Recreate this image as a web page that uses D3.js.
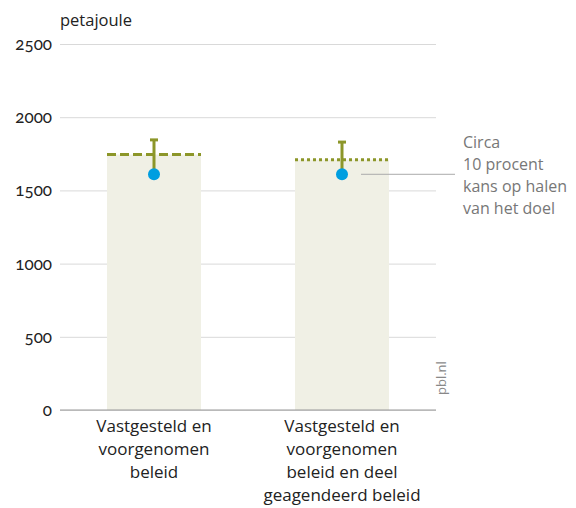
<!DOCTYPE html>
<html>
<head>
<meta charset="utf-8">
<script src="https://cdn.jsdelivr.net/npm/d3@7"></script>
<style>
  body { margin: 0; background: #fff; }
  svg text { font-family: "Open Sans", Lato, sans-serif; }
</style>
</head>
<body>
<svg></svg>
<script>
// data
var categories = [
    ["Vastgesteld en", "voorgenomen", "beleid"],
    ["Vastgesteld en", "voorgenomen", "beleid en deel", "geagendeerd beleid"]
];
var barValues = [1745, 1710];
var upperValues = [1845, 1830];
var pointValues = [1610, 1610];
var lineStyles = ["dashed", "dotted"];
var yTicks = [0, 500, 1000, 1500, 2000, 2500];
var noteLines = ["Circa", "10 procent", "kans op halen", "van het doel"];

var olive = "#8c9629";

// set the dimensions and margins of the graph
var margin = { top: 44, right: 140, bottom: 98, left: 60 },
    width = 576 - margin.left - margin.right,
    height = 508 - margin.top - margin.bottom;

var svg = d3.select("svg")
    .attr("width", 576)
    .attr("height", 508)
    .append("g")
    .attr("transform", "translate(" + margin.left + "," + margin.top + ")");

var x = d3.scaleBand()
    .range([0, width])
    .domain(d3.range(categories.length))
    .paddingInner(0.5)
    .paddingOuter(0.25);

var y = d3.scaleLinear()
    .domain([0, 2500])
    .range([height, 0]);

// grid + y labels
var yAxis = svg.append("g")
    .call(d3.axisLeft(y).tickValues(yTicks).tickSize(-width).tickFormat(d3.format("d")));
yAxis.select(".domain").remove();
yAxis.selectAll(".tick line").attr("stroke", "#d9d9d9").attr("stroke-width", 1);
yAxis.selectAll(".tick text")
    .attr("x", -8)
    .attr("fill", "#222")
    .style("font-family", "Lato, sans-serif")
    .style("font-size", "17px")
    .style("font-variant-numeric", "oldstyle-nums");

svg.append("text")
    .attr("x", 0)
    .attr("y", -18)
    .attr("fill", "#222")
    .style("font-size", "16.5px")
    .text("petajoule");

// bars
svg.selectAll(".bar")
    .data(barValues)
    .enter()
    .append("rect")
    .attr("x", function (d, i) { return x(i); })
    .attr("y", function (d) { return y(d); })
    .attr("width", x.bandwidth())
    .attr("height", function (d) { return height - y(d); })
    .attr("fill", "#f0f0e5");

// baseline
svg.append("line")
    .attr("x1", 0).attr("x2", width)
    .attr("y1", y(0)).attr("y2", y(0))
    .attr("stroke", "#999")
    .attr("stroke-width", 1);

// bar top lines
svg.selectAll(".topline")
    .data(barValues)
    .enter()
    .append("line")
    .attr("x1", function (d, i) { return x(i); })
    .attr("x2", function (d, i) { return x(i) + x.bandwidth(); })
    .attr("y1", function (d) { return y(d); })
    .attr("y2", function (d) { return y(d); })
    .attr("stroke", olive)
    .attr("stroke-width", 3)
    .attr("stroke-dasharray", function (d, i) { return lineStyles[i] == "dashed" ? "9,4" : "3,3"; });

// error bars
svg.selectAll(".err")
    .data(upperValues)
    .enter()
    .append("line")
    .attr("x1", function (d, i) { return x(i) + x.bandwidth() / 2; })
    .attr("x2", function (d, i) { return x(i) + x.bandwidth() / 2; })
    .attr("y1", function (d) { return y(d); })
    .attr("y2", function (d, i) { return y(pointValues[i]); })
    .attr("stroke", olive)
    .attr("stroke-width", 3);

svg.selectAll(".cap")
    .data(upperValues)
    .enter()
    .append("line")
    .attr("x1", function (d, i) { return x(i) + x.bandwidth() / 2 - 4; })
    .attr("x2", function (d, i) { return x(i) + x.bandwidth() / 2 + 4; })
    .attr("y1", function (d) { return y(d); })
    .attr("y2", function (d) { return y(d); })
    .attr("stroke", olive)
    .attr("stroke-width", 3);

// annotation line
var last = pointValues.length - 1;
svg.append("line")
    .attr("x1", x(last) + x.bandwidth() / 2 + 19)
    .attr("x2", width + 19)
    .attr("y1", y(pointValues[last]))
    .attr("y2", y(pointValues[last]))
    .attr("stroke", "#aaa")
    .attr("stroke-width", 1);

// points
svg.selectAll(".dot")
    .data(pointValues)
    .enter()
    .append("circle")
    .attr("cx", function (d, i) { return x(i) + x.bandwidth() / 2; })
    .attr("cy", function (d) { return y(d); })
    .attr("r", 6)
    .attr("fill", "#009ee0");

// note text
var note = svg.append("text")
    .attr("fill", "#777")
    .style("font-size", "16px");
note.selectAll("tspan")
    .data(noteLines)
    .enter()
    .append("tspan")
    .attr("x", width + 27)
    .attr("y", function (d, i) { return y(pointValues[last]) - 26 + i * 22; })
    .text(function (d) { return d; });

// category labels
categories.forEach(function (lines, i) {
    var t = svg.append("text")
        .attr("text-anchor", "middle")
        .attr("fill", "#222")
        .style("font-size", "17px");
    t.selectAll("tspan")
        .data(lines)
        .enter()
        .append("tspan")
        .attr("x", x(i) + x.bandwidth() / 2)
        .attr("y", height + 22 + 23 * 0)
        .attr("dy", function (d, j) { return (j * 23) + "px"; })
        .text(function (d) { return d; });
});

// source
svg.append("text")
    .attr("transform", "translate(" + (width + 10) + "," + (height - 15) + ")rotate(-90)")
    .attr("fill", "#888")
    .style("font-size", "13px")
    .text("pbl.nl");
</script>
</body>
</html>
